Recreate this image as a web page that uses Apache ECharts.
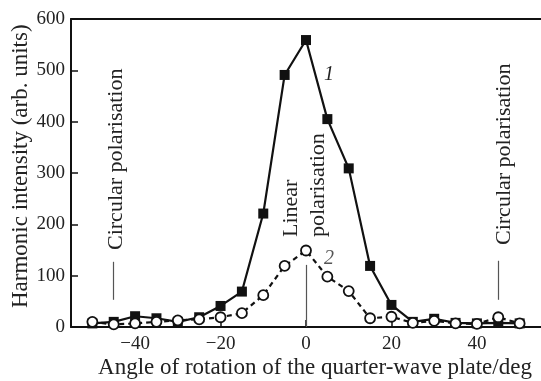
<!DOCTYPE html>
<html>
<head>
<meta charset="utf-8">
<script src="https://cdn.jsdelivr.net/npm/echarts@6/dist/echarts.min.js"></script>
<style>
  html, body { margin: 0; padding: 0; background: #fff; }
  #chart { width: 541px; height: 381px; }
</style>
</head>
<body>
<div id="chart"></div>
<script>
// angles (deg) and intensities
var angles = [-50, -45, -40, -35, -30, -25, -20, -15, -10, -5, 0, 5, 10, 15, 20, 25, 30, 35, 40, 45, 50];
var curve1 = [7, 10, 21, 17, 10, 19, 41, 69, 221, 491, 559, 405, 309, 119, 43, 10, 16, 8, 7, 8, 7];
var curve2 = [10, 5, 7, 10, 13, 15, 19, 27, 62, 119, 149, 98, 70, 17, 20, 8, 12, 7, 6, 19, 7];
var xTicks = [-40, -20, 0, 20, 40];

var font = '"Liberation Serif", "Times New Roman", serif';
var myChart = echarts.init(document.getElementById('chart'));

function pairs(ys) {
    return angles.map(function (a, i) { return [a, ys[i]]; });
}

var option = {
    animation: false,
    backgroundColor: '#fff',
    grid: { left: 71, top: 19, right: 0, bottom: 54 },
    xAxis: [
        {
            type: 'value',
            min: -55,
            max: 55,
            axisLine: { onZero: false, lineStyle: { color: '#111', width: 2 } },
            axisTick: { inside: true, length: 7, customValues: xTicks, lineStyle: { color: '#111', width: 1.5 } },
            axisLabel: {
                customValues: xTicks,
                margin: 8,
                color: '#222',
                fontFamily: font,
                fontSize: 19,
                formatter: function (v) { return v < 0 ? '\u2212' + Math.abs(v) : v; }
            },
            splitLine: { show: false }
        },
        {
            type: 'value',
            position: 'top',
            min: -55,
            max: 55,
            axisLine: { onZero: false, lineStyle: { color: '#111', width: 2 } },
            axisTick: { show: false },
            axisLabel: { show: false },
            splitLine: { show: false }
        }
    ],
    yAxis: {
        type: 'value',
        min: 0,
        max: 600,
        interval: 100,
        axisLine: { show: true, onZero: false, lineStyle: { color: '#111', width: 2 } },
        axisTick: { inside: true, length: 7, lineStyle: { color: '#111', width: 1.5 } },
        axisLabel: { margin: 6, color: '#222', fontFamily: font, fontSize: 19 },
        splitLine: { show: false }
    },
    graphic: [
        { type: 'text', x: 21, y: 308, rotation: Math.PI / 2,
          style: { text: 'Harmonic intensity (arb. units)', font: '23px ' + font, fill: '#222', textAlign: 'left', textVerticalAlign: 'middle' } },
        { type: 'text', x: 315, y: 368,
          style: { text: 'Angle of rotation of the quarter-wave plate/deg', font: '23px ' + font, fill: '#222', textAlign: 'center', textVerticalAlign: 'middle' } },
        { type: 'text', x: 116, y: 250, rotation: Math.PI / 2,
          style: { text: 'Circular polarisation', font: '22px ' + font, fill: '#222', textAlign: 'left', textVerticalAlign: 'middle' } },
        { type: 'text', x: 504, y: 245, rotation: Math.PI / 2,
          style: { text: 'Circular polarisation', font: '22px ' + font, fill: '#222', textAlign: 'left', textVerticalAlign: 'middle' } },
        { type: 'text', x: 291, y: 237, rotation: Math.PI / 2,
          style: { text: 'Linear', font: '22px ' + font, fill: '#222', textAlign: 'left', textVerticalAlign: 'middle' } },
        { type: 'text', x: 318, y: 237, rotation: Math.PI / 2,
          style: { text: 'polarisation', font: '22px ' + font, fill: '#222', textAlign: 'left', textVerticalAlign: 'middle' } },
        { type: 'text', x: 329, y: 75,
          style: { text: '1', font: 'italic 20px ' + font, fill: '#222', textAlign: 'center', textVerticalAlign: 'middle' } },
        { type: 'text', x: 329, y: 259,
          style: { text: '2', font: 'italic 20px ' + font, fill: '#555', textAlign: 'center', textVerticalAlign: 'middle' } }
    ],
    series: [
        {
            name: '1',
            type: 'line',
            data: pairs(curve1),
            symbol: 'rect',
            symbolSize: 10,
            itemStyle: { color: '#111' },
            lineStyle: { color: '#111', width: 2.2 },
            markLine: {
                silent: true,
                symbol: 'none',
                label: { show: false },
                lineStyle: { color: '#555', width: 1.2, type: 'solid' },
                data: [
                    [{ coord: [-45, 127] }, { coord: [-45, 53] }],
                    [{ coord: [0, 121] }, { coord: [0, 0] }],
                    [{ coord: [45, 129] }, { coord: [45, 53] }]
                ]
            },
            z: 2
        },
        {
            name: '2',
            type: 'line',
            data: pairs(curve2),
            symbol: 'circle',
            symbolSize: 10,
            itemStyle: { color: '#fff', borderColor: '#111', borderWidth: 1.8 },
            lineStyle: { color: '#111', width: 2.2, type: [5, 4] },
            z: 3
        }
    ]
};

myChart.setOption(option);
</script>
</body>
</html>
